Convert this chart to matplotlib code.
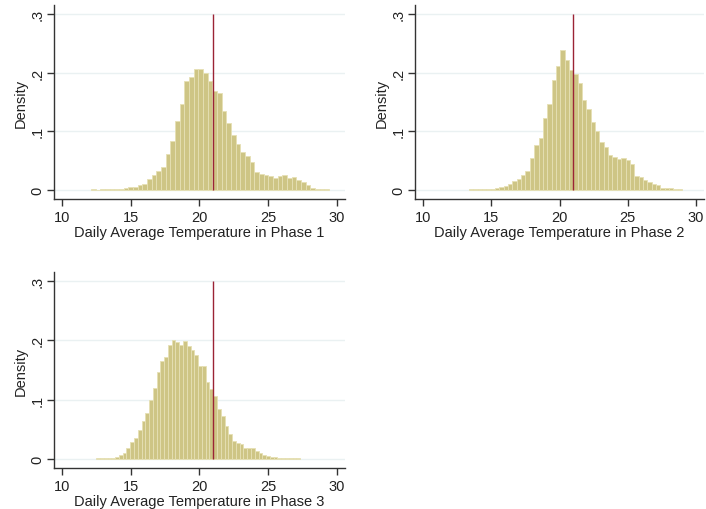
import numpy as np
import matplotlib
matplotlib.use("Agg")
import matplotlib.pyplot as plt

plt.rcParams['font.family'] = ['Liberation Sans', 'DejaVu Sans']

# ---------------- data ----------------
x_ticks = [10, 15, 20, 25, 30]
y_ticks = [0, 0.1, 0.2, 0.3]
y_tick_labels = ["0", ".1", ".2", ".3"]
ref_temp = 21

p1_bin_start = 12.1
p1_bin_width = 0.3394
p1_density = [0.0017, 0.0003, 0.0012, 0.0012, 0.0013, 0.0015, 0.0017, 0.003, 0.0045, 0.0056,
              0.008, 0.0095, 0.018, 0.025, 0.033, 0.040, 0.062, 0.083, 0.118, 0.147,
              0.185, 0.193, 0.207, 0.207, 0.199, 0.185, 0.168, 0.165, 0.135, 0.114,
              0.094, 0.078, 0.064, 0.058, 0.047, 0.031, 0.027, 0.025, 0.0235, 0.021,
              0.0235, 0.026, 0.020, 0.022, 0.017, 0.013, 0.009, 0.003, 0.0012, 0.0012,
              0.0012]

p2_bin_start = 13.37
p2_bin_width = 0.3184
p2_density = [0.0011, 0.0011, 0.0011, 0.0011, 0.0011, 0.0022, 0.0028, 0.0045, 0.0073, 0.0096,
              0.0157, 0.0185, 0.0253, 0.0326, 0.055, 0.077, 0.089, 0.122, 0.147, 0.187,
              0.212, 0.239, 0.222, 0.204, 0.197, 0.183, 0.153, 0.138, 0.116, 0.100,
              0.0815, 0.073, 0.060, 0.056, 0.053, 0.0545, 0.0506, 0.045, 0.0236, 0.022,
              0.0169, 0.0129, 0.0101, 0.0079, 0.0039, 0.0028, 0.0028, 0.0011, 0.0011]

p3_bin_start = 12.49
p3_bin_width = 0.2745
p3_density = [0.0008, 0.0008, 0.0010, 0.0010, 0.0012, 0.0040, 0.0068, 0.0102, 0.0188, 0.0284,
              0.0347, 0.0489, 0.0636, 0.0773, 0.100, 0.120, 0.146, 0.165, 0.172, 0.192,
              0.200, 0.198, 0.192, 0.199, 0.190, 0.183, 0.176, 0.157, 0.156, 0.129,
              0.118, 0.106, 0.085, 0.072, 0.055, 0.042, 0.031, 0.0265, 0.0248, 0.019,
              0.0186, 0.0186, 0.014, 0.010, 0.0073, 0.005, 0.0028, 0.0028, 0.0017, 0.0017,
              0.0017, 0.0017, 0.0017, 0.0017]

panels = [
    ("Daily Average Temperature in Phase 1", p1_bin_start, p1_bin_width, p1_density),
    ("Daily Average Temperature in Phase 2", p2_bin_start, p2_bin_width, p2_density),
    ("Daily Average Temperature in Phase 3", p3_bin_start, p3_bin_width, p3_density),
]

# ---------------- style ----------------
W, H = 706, 510
bar_fill = "#CEC585"
bar_edge = "#E6E0B4"
line_col = "#9B2335"
grid_col = "#EAF1F2"
axis_col = "#333333"
fs = 10.5

fig = plt.figure(figsize=(W / 100, H / 100), dpi=100)
fig.patch.set_facecolor("white")

# axes rectangles in pixels: left, right, bottom(px from top), top(px from top)
rects = [(54, 345, 200, 6), (415, 704, 200, 6), (54, 345, 469, 273)]

for (label, start, width, dens), (l, r, b, t) in zip(panels, rects):
    ax = fig.add_axes([l / W, (H - b) / H, (r - l) / W, (b - t) / H])
    edges = start + width * np.arange(len(dens))
    ax.bar(edges, dens, width=width, align="edge", color=bar_fill,
           edgecolor=bar_edge, linewidth=0.6, zorder=2)
    ax.vlines(ref_temp, 0, 0.3, color=line_col, linewidth=1.0, zorder=3)
    ax.set_xlim(9.42, 30.58)
    ax.set_ylim(-0.0153, 0.3153)
    ax.set_xticks(x_ticks)
    ax.set_xticklabels([str(v) for v in x_ticks], fontsize=fs, color="#222222")
    ax.set_yticks(y_ticks)
    ax.set_yticklabels(y_tick_labels, fontsize=fs, color="#222222",
                       rotation=90, va="center", ha="right")
    for yv in y_ticks:
        ax.axhline(yv, color=grid_col, linewidth=1.0, zorder=1)
    for s in ["top", "right"]:
        ax.spines[s].set_visible(False)
    for s in ["left", "bottom"]:
        ax.spines[s].set_color(axis_col)
        ax.spines[s].set_linewidth(1.0)
    ax.tick_params(axis="both", direction="out", length=5, width=1.0,
                   color=axis_col, pad=3)
    ax.tick_params(axis="y", pad=2)
    ax.set_xlabel(label, fontsize=fs, color="#222222", labelpad=1)
    ax.set_ylabel("Density", fontsize=fs, color="#222222", labelpad=2)
    ax.set_facecolor("white")

fig.savefig("out.png", dpi=100, facecolor="white")
